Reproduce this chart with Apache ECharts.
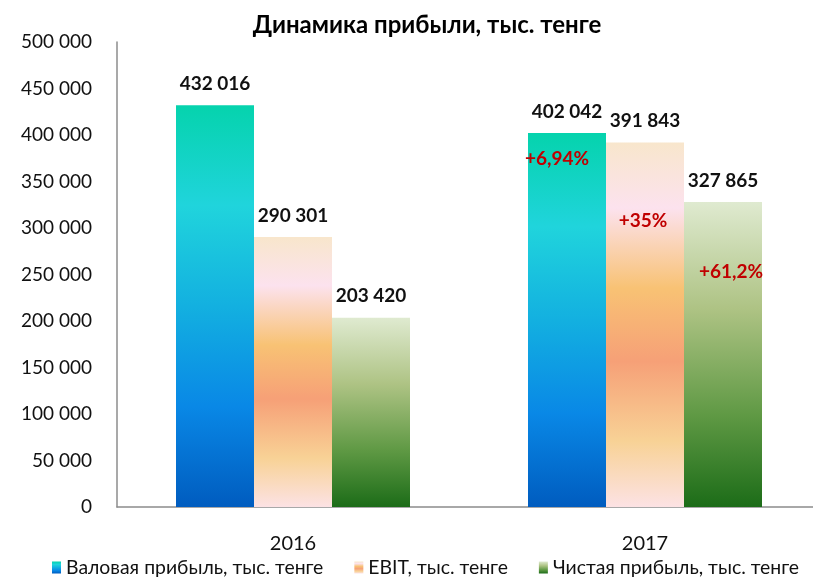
<!DOCTYPE html>
<html>
<head>
<meta charset="utf-8">
<script src="https://cdn.jsdelivr.net/npm/echarts@6/dist/echarts.min.js"></script>
<style>
  html, body { margin: 0; padding: 0; background: #fff; }
  #main { width: 813px; height: 583px; }
</style>
</head>
<body>
<div id="main"></div>
<script>
var years = ['2016', '2017'];
var grossProfit = [432016, 402042];
var ebit = [290301, 391843];
var netProfit = [203420, 327865];
var growth2017 = ['+6,94%', '+35%', '+61,2%'];
var seriesNames = ['Валовая прибыль, тыс. тенге', 'EBIT, тыс. тенге', 'Чистая прибыль, тыс. тенге'];

var FONT = 'Lato, sans-serif';

function fmt(v) {
    return String(v).replace(/\B(?=(\d{3})+(?!\d))/g, ' ');
}

function grad(stops) {
    return new echarts.graphic.LinearGradient(0, 0, 0, 1, stops.map(function (s) {
        return { offset: s[0], color: s[1] };
    }));
}

var colors = [
    grad([[0, '#05d3ad'], [0.25, '#20d4dc'], [0.5, '#13b0e0'], [0.75, '#0988e6'], [1, '#005cbf']]),
    grad([[0, '#f8e6cc'], [0.18, '#fce2ee'], [0.4, '#f8c274'], [0.6, '#f6a077'], [0.82, '#f8d296'], [1, '#fce2e4']]),
    grad([[0, '#dfead0'], [0.35, '#aec384'], [0.7, '#5f9944'], [1, '#1c6c18']])
];

var myChart = echarts.init(document.getElementById('main'));

function makeSeries(idx, data, offset) {
    return {
        name: seriesNames[idx],
        type: 'bar',
        data: data,
        barWidth: 78,
        barGap: '0%',
        itemStyle: { color: colors[idx] },
        label: {
            show: true,
            position: 'top',
            distance: 12,
            formatter: function (p) { return fmt(p.value); },
            fontFamily: FONT,
            fontWeight: 'bold',
            fontSize: 19,
            color: '#111'
        },
        markPoint: {
            symbol: 'circle',
            symbolSize: 0,
            data: [{
                coord: [years[1], data[1]],
                label: {
                    show: true,
                    formatter: growth2017[idx],
                    offset: offset,
                    fontFamily: FONT,
                    fontWeight: 'bold',
                    fontSize: 19,
                    color: '#c00000'
                }
            }]
        }
    };
}

myChart.setOption({
    animation: false,
    title: {
        text: 'Динамика прибыли, тыс. тенге',
        left: 422,
        textAlign: 'center',
        top: 8,
        textStyle: { fontFamily: FONT, fontWeight: 'bold', fontSize: 24, color: '#000' }
    },
    legend: {
        bottom: 1,
        left: 47,
        width: 790,
        itemWidth: 9,
        itemHeight: 12,
        itemGap: 31,
        icon: 'rect',
        textStyle: { fontFamily: FONT, fontSize: 19.4, color: '#111' },
        data: seriesNames
    },
    grid: { left: 117, width: 704, top: 42, bottom: 76, outerBoundsMode: 'none' },
    xAxis: {
        type: 'category',
        data: years,
        axisLine: { lineStyle: { color: '#8c8c8c', width: 1.5 } },
        axisTick: { show: false },
        axisLabel: { fontFamily: FONT, fontSize: 20, color: '#111', margin: 27 }
    },
    yAxis: {
        type: 'value',
        min: 0,
        max: 500000,
        interval: 50000,
        splitLine: { show: false },
        axisLine: { show: true, lineStyle: { color: '#8c8c8c', width: 1.5 } },
        axisTick: { show: false },
        axisLabel: {
            fontFamily: FONT, fontSize: 19, color: '#111', margin: 25,
            formatter: function (v) { return fmt(v); }
        }
    },
    series: [
        makeSeries(0, grossProfit, [-10, 26]),
        makeSeries(1, ebit, [-2, 78]),
        makeSeries(2, netProfit, [8, 70])
    ]
});
</script>
</body>
</html>
